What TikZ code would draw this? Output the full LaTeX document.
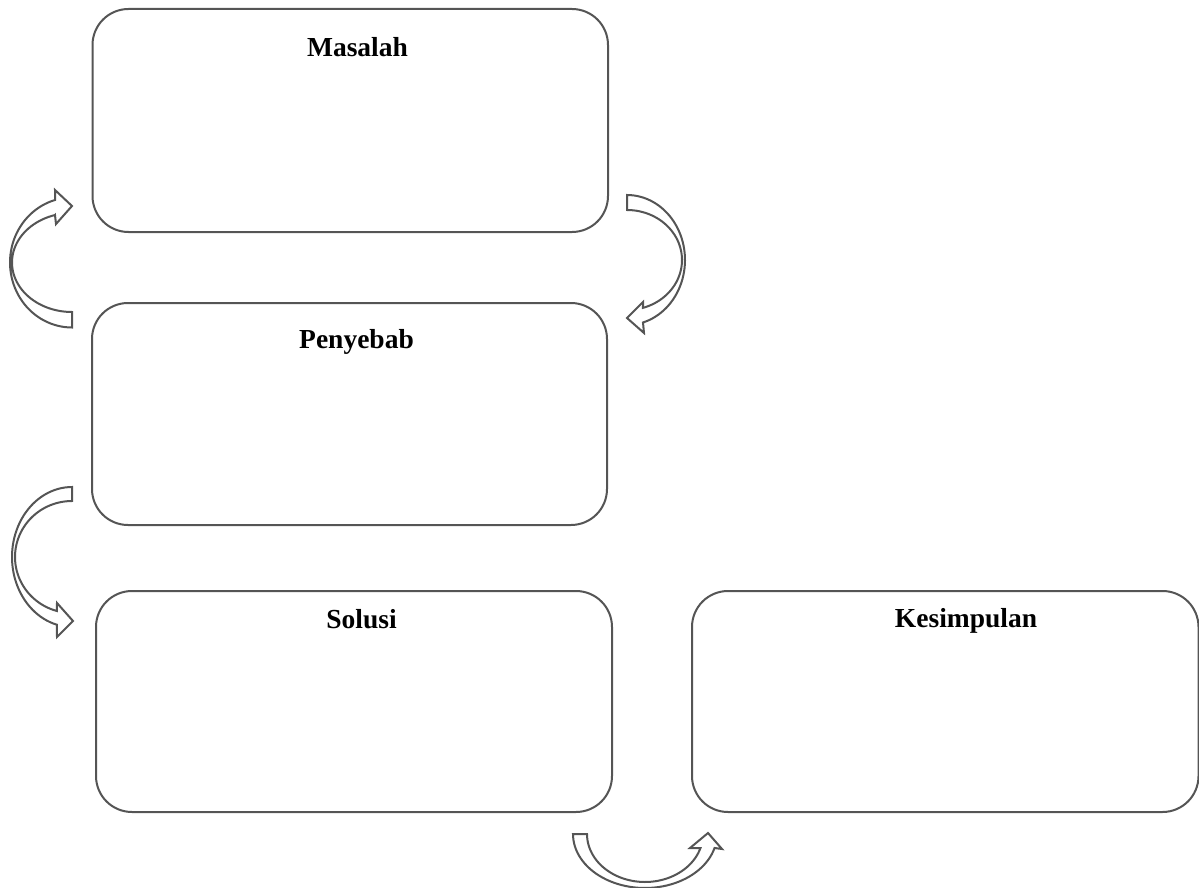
\documentclass[tikz,border=0pt]{standalone}
\usepackage{fontspec}
\setmainfont{Liberation Serif}
\begin{document}
\begin{tikzpicture}[x=1pt,y=-1pt,
  box/.style={draw=boxgray, line width=2pt, rounded corners=36pt, inner sep=0pt, outer sep=0pt, fill=white},
  lbl/.style={font=\fontsize{27.5}{33}\selectfont\bfseries, anchor=base, inner sep=0pt, text=black},
  barrow/.style={draw=boxgray, line width=2pt, fill=white, line join=miter}]
\definecolor{boxgray}{HTML}{555555}
\useasboundingbox (0,0) rectangle (1199,888);
% boxes
\node[box, minimum width=515.5pt, minimum height=223pt] (masalah) at (350.25,120.5) {};
\node[box, minimum width=515pt, minimum height=222pt] (penyebab) at (349.5,414) {};
\node[box, minimum width=516pt, minimum height=221pt] (solusi) at (354,701.5) {};
\node[box, minimum width=506.5pt, minimum height=221pt] (kesimpulan) at (945.25,701.5) {};
% labels
\node[lbl] (t1) at (357.5,57) {Masalah};
\node[lbl] (t2) at (356.5,348) {Penyebab};
\node[lbl] (t3) at (361.5,628) {Solusi};
\node[lbl] (t4) at (966,627) {Kesimpulan};
% arrow 1: Penyebab -> Masalah (left)
\draw[barrow] (72,312) -- (72,327.5)
  -- plot[domain=90:254.1, samples=50] ({72+62*cos(\x)},{262.5+65*sin(\x)})
  -- (55,190) -- (72,206) -- (56,224) -- (55,215)
  -- plot[domain=253.5:90, samples=50] ({72+60*cos(\x)},{262.5+49.5*sin(\x)}) -- cycle;
% arrow 2: Masalah -> Penyebab (right)
\draw[barrow] (627,210) -- (627,195)
  -- plot[domain=-90:74, samples=50] ({627+58*cos(\x)},{260+65*sin(\x)})
  -- (644,333) -- (627,318) -- (643,302)
  -- plot[domain=73.1:-90, samples=50] ({627+55*cos(\x)},{260+50*sin(\x)}) -- cycle;
% arrow 3: Penyebab -> Solusi (left)
\draw[barrow] (72,501) -- (72,487)
  -- plot[domain=270:104.5, samples=50] ({72+60*cos(\x)},{557+70*sin(\x)})
  -- (57,637) -- (73,621) -- (57,603)
  -- plot[domain=105.3:270, samples=50] ({72+57*cos(\x)},{557+56*sin(\x)}) -- cycle;
% arrow 4: Solusi -> Kesimpulan (bottom)
\draw[barrow] (587,834) -- (573,834)
  -- plot[domain=180:15, samples=50] ({645+72*cos(\x)},{834+54*sin(\x)})
  -- (722,849) -- (708,833) -- (690,848)
  -- plot[domain=17:180, samples=50] ({645+58*cos(\x)},{834+48*sin(\x)}) -- cycle;
\end{tikzpicture}
\end{document}
